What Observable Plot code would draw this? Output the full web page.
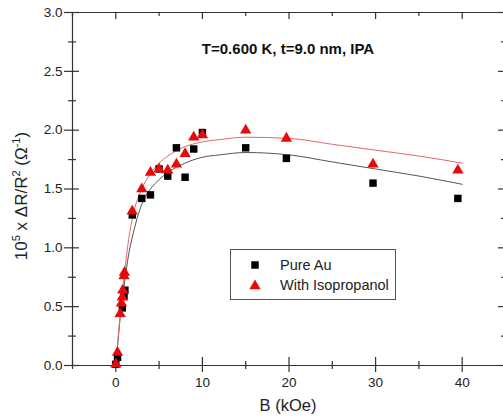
<!DOCTYPE html>
<html><head><meta charset="utf-8">
<script src="https://cdn.jsdelivr.net/npm/d3@7"></script>
<script src="https://cdn.jsdelivr.net/npm/@observablehq/plot@0.6"></script>
<style>
html,body{margin:0;padding:0;background:#fff;overflow:hidden}
#wrap{position:relative;width:503px;height:419px;font-family:"Liberation Sans",Arial,sans-serif;color:#222}
#ylab{position:absolute;left:21px;top:196px;transform:translate(-50%,-50%) rotate(-90deg);white-space:nowrap;font-size:17px;line-height:17px}
#ylab sup{font-size:11px;vertical-align:7px;line-height:0}
#legend{position:absolute;left:230px;top:249px;width:166px;height:51px;border:1px solid #555;box-sizing:border-box;background:#fff;font-size:14.5px}
#legend .row{position:absolute;left:0;height:20px;line-height:20px;white-space:nowrap}
#legend svg{position:absolute;left:14px;top:0}
#legend span{position:absolute;left:49px;top:0}
</style></head>
<body><div id="wrap"></div>
<script>
// Pure Au (black squares)
const B_AU = [0, 0.2, 0.75, 0.95, 1.05, 1.9, 3.0, 4.0, 5.0, 6.0, 7.0, 8.0, 9.0, 10.0, 15, 19.7, 29.7, 39.5];
const V_AU = [0.01, 0.07, 0.49, 0.59, 0.64, 1.28, 1.42, 1.45, 1.67, 1.61, 1.85, 1.60, 1.84, 1.98, 1.85, 1.76, 1.55, 1.42];
// With Isopropanol (red triangles)
const B_IPA = [0, 0.2, 0.5, 0.65, 0.75, 0.8, 0.95, 1.0, 1.9, 3.0, 4.0, 5.0, 6.0, 7.0, 8.0, 9.0, 10.0, 15, 19.7, 29.7, 39.5];
const V_IPA = [0.01, 0.11, 0.44, 0.53, 0.58, 0.64, 0.76, 0.79, 1.31, 1.50, 1.64, 1.67, 1.66, 1.71, 1.80, 1.94, 1.96, 2.00, 1.93, 1.71, 1.66];
// Fit curves
const B_FIT = [0, 0.25, 0.5, 1, 1.5, 2, 3, 4, 5, 6, 8, 10, 12, 15, 20, 25, 30, 35, 40];
const V_FIT_AU = [0, 0.2, 0.4, 0.7, 0.95, 1.12, 1.37, 1.5, 1.58, 1.64, 1.72, 1.77, 1.79, 1.81, 1.79, 1.73, 1.67, 1.61, 1.54];
const V_FIT_IPA = [0, 0.22, 0.43, 0.78, 1.08, 1.28, 1.5, 1.63, 1.72, 1.78, 1.86, 1.9, 1.92, 1.94, 1.93, 1.88, 1.83, 1.78, 1.72];
// Axes
const X_DOMAIN = [-5, 45], Y_DOMAIN = [0, 3];
const X_MAJOR = [0, 10, 20, 30, 40], X_MINOR = [-5, 5, 15, 25, 35, 45];
const Y_MAJOR = [0, 0.5, 1, 1.5, 2, 2.5, 3], Y_MINOR = [0.25, 0.75, 1.25, 1.75, 2.25, 2.75];
const TITLE = "T=0.600 K, t=9.0 nm, IPA";
const X_LABEL = "B (kOe)";
const SERIES = ["Pure Au", "With Isopropanol"];

const au = B_AU.map((b, i) => ({b, v: V_AU[i]}));
const ipa = B_IPA.map((b, i) => ({b, v: V_IPA[i]}));
const fitAu = B_FIT.map((b, i) => ({b, v: V_FIT_AU[i]}));
const fitIpa = B_FIT.map((b, i) => ({b, v: V_FIT_IPA[i]}));

const AX = "#333", RED = "#e80a0a";
const ax = {stroke: AX, strokeWidth: 1.2};
const RS = 4.2, RT = 4.2;

const plot = Plot.plot({
  width: 503, height: 419,
  marginTop: 12, marginBottom: 54, marginLeft: 72, marginRight: 0,
  x: {domain: X_DOMAIN, range: [72, 505]},
  y: {domain: Y_DOMAIN},
  style: {fontFamily: "'Liberation Sans', Arial, sans-serif", background: "white", color: "#222", fontSize: "13px"},
  marks: [
    Plot.axisX(X_MAJOR, {tickSize: 0, tickPadding: 12, label: null, fontSize: 13.5}),
    Plot.axisY(Y_MAJOR, {tickSize: 0, tickPadding: 10, label: null, fontSize: 13.5, tickFormat: d3.format(".1f")}),
    // frame lines
    Plot.ruleX([X_DOMAIN[0], X_DOMAIN[1]], ax),
    Plot.ruleY([Y_DOMAIN[0], Y_DOMAIN[1]], ax),
    // bottom ticks (crossing)
    Plot.ruleX(X_MAJOR, {x: d => d, y1: Y_DOMAIN[0], y2: Y_DOMAIN[0], insetTop: -8, insetBottom: -7, ...ax}),
    Plot.ruleX(X_MINOR, {x: d => d, y1: Y_DOMAIN[0], y2: Y_DOMAIN[0], insetTop: -4, insetBottom: -4, ...ax}),
    // top ticks (inward)
    Plot.ruleX(X_MAJOR, {x: d => d, y1: Y_DOMAIN[1], y2: Y_DOMAIN[1], insetTop: 0, insetBottom: -7, ...ax}),
    Plot.ruleX(X_MINOR, {x: d => d, y1: Y_DOMAIN[1], y2: Y_DOMAIN[1], insetTop: 0, insetBottom: -4, ...ax}),
    // left ticks (crossing)
    Plot.ruleY(Y_MAJOR, {y: d => d, x1: X_DOMAIN[0], x2: X_DOMAIN[0], insetLeft: -8, insetRight: -7, ...ax}),
    Plot.ruleY(Y_MINOR, {y: d => d, x1: X_DOMAIN[0], x2: X_DOMAIN[0], insetLeft: -4, insetRight: -4, ...ax}),
    // right ticks (inward)
    Plot.ruleY(Y_MAJOR, {y: d => d, x1: X_DOMAIN[1], x2: X_DOMAIN[1], insetLeft: -7, insetRight: 0, ...ax}),
    Plot.ruleY(Y_MINOR, {y: d => d, x1: X_DOMAIN[1], x2: X_DOMAIN[1], insetLeft: -4, insetRight: 0, ...ax}),
    // fit curves
    Plot.line(fitAu, {x: "b", y: "v", stroke: "#555", strokeWidth: 1, curve: "monotone-x"}),
    Plot.line(fitIpa, {x: "b", y: "v", stroke: "#e06a6a", strokeWidth: 1, curve: "monotone-x"}),
    // data
    Plot.dot(au, {x: "b", y: "v", symbol: "square", r: RS, fill: "#000", stroke: "none"}),
    Plot.dot(ipa, {x: "b", y: "v", symbol: "triangle", r: RT, fill: RED, stroke: "none"}),
    // texts
    Plot.text([TITLE], {frameAnchor: "top", dy: 31, fontSize: 15, fontWeight: "bold", fill: "#111"}),
    Plot.text([X_LABEL], {frameAnchor: "bottom", dy: 45, fontSize: 16.5, fill: "#222"})
  ]
});

const wrap = document.getElementById("wrap");
wrap.appendChild(plot);

const ylab = document.createElement("div");
ylab.id = "ylab";
ylab.innerHTML = "10<sup>5</sup> x &Delta;R/R<sup>2</sup> (&Omega;<sup>-1</sup>)";
wrap.appendChild(ylab);

const sq = d3.symbol(d3.symbolSquare, Math.PI * RS * RS)();
const tri = d3.symbol(d3.symbolTriangle, Math.PI * RT * RT)();
const leg = document.createElement("div");
leg.id = "legend";
leg.innerHTML =
  `<div class="row" style="top:5px"><svg width="20" height="20"><path transform="translate(10,10)" d="${sq}" fill="#000"/></svg><span>${SERIES[0]}</span></div>` +
  `<div class="row" style="top:25px"><svg width="20" height="20"><path transform="translate(10,11)" d="${tri}" fill="${RED}"/></svg><span>${SERIES[1]}</span></div>`;
wrap.appendChild(leg);
</script>
</body></html>
